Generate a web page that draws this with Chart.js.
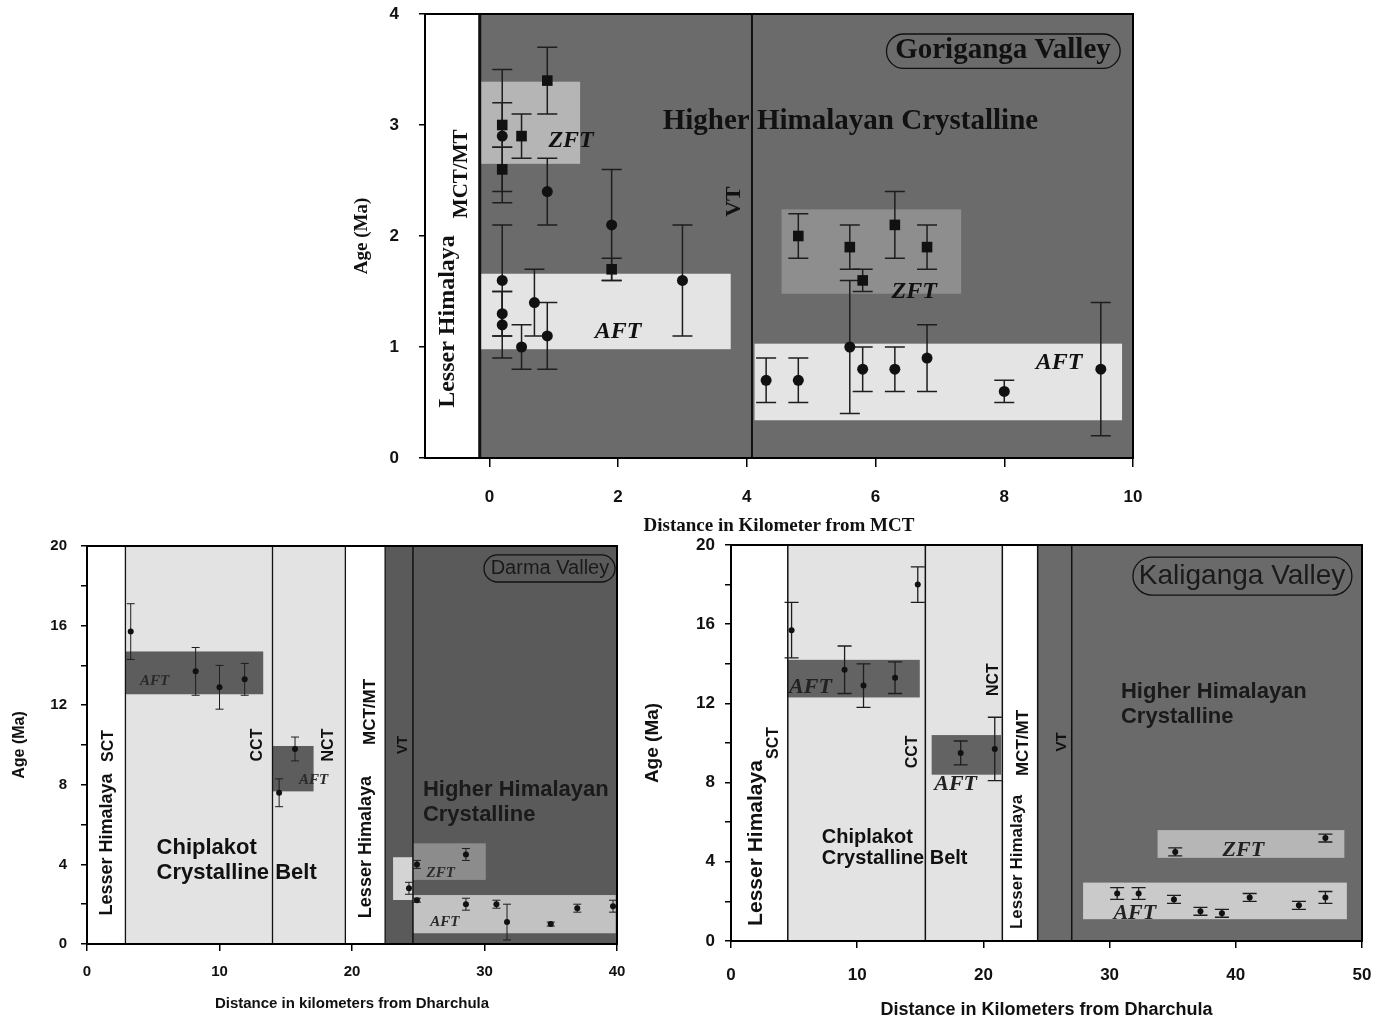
<!DOCTYPE html>
<html>
<head>
<meta charset="utf-8">
<script src="https://cdn.jsdelivr.net/npm/chart.js@4.4.1/dist/chart.umd.min.js"></script>
<style>
  html, body { margin: 0; padding: 0; background: #fff; }
  body { width: 1381px; height: 1022px; position: relative; overflow: hidden; }
  .panel { position: absolute; }
</style>
</head>
<body>
<div class="panel" style="left:330px;top:0;width:830px;height:540px"><canvas id="gori"></canvas></div>
<div class="panel" style="left:0;top:530px;width:636px;height:492px"><canvas id="darma"></canvas></div>
<div class="panel" style="left:636px;top:530px;width:745px;height:492px"><canvas id="kali"></canvas></div>
<script>
// ---- Goriganga valley (distance from MCT, km / age Ma) ----
const goriAftX   = [0.2, 0.2, 0.2, 0.2, 0.5, 0.7, 0.9, 0.9, 1.9, 3.0, 4.3, 4.8, 5.6, 5.8, 6.3, 6.8, 8.0, 9.5];
const goriAftAge = [2.9, 1.6, 1.3, 1.2, 1.0, 1.4, 2.4, 1.1, 2.1, 1.6, 0.7, 0.7, 1.0, 0.8, 0.8, 0.9, 0.6, 0.8];
const goriAftErr = [0.6, 0.5, 0.2, 0.3, 0.2, 0.3, 0.3, 0.3, 0.5, 0.5, 0.2, 0.2, 0.6, 0.2, 0.2, 0.3, 0.1, 0.6];
const goriZftX   = [0.2, 0.2, 0.5, 0.9, 1.9, 4.8, 5.6, 5.8, 6.3, 6.8];
const goriZftAge = [3.0, 2.6, 2.9, 3.4, 1.7, 2.0, 1.9, 1.6, 2.1, 1.9];
const goriZftErr = [0.2, 0.2, 0.2, 0.3, 0.1, 0.2, 0.2, 0.1, 0.3, 0.2];
const goriZoneEdges = [-1, -0.15, 10];
const goriThrusts = [-0.15, 4.08];
const goriBoxes = [[-0.15, 1.41, 2.65, 3.39], [-0.15, 3.75, 0.98, 1.66], [4.54, 7.33, 1.48, 2.24], [4.12, 9.83, 0.34, 1.03]];
const goriXTicks = [0, 2, 4, 6, 8, 10];
const goriYTicks = [0, 1, 2, 3, 4];

// ---- Darma valley (distance from Dharchula, km / age Ma) ----
const darmaX   = [3.3, 8.2, 10.0, 11.9, 14.5, 15.7, 24.3, 24.9, 24.9, 28.6, 28.6, 30.9, 31.7, 35.0, 37.0, 39.7];
const darmaAge = [15.7, 13.7, 12.9, 13.3, 7.6, 9.8, 2.8, 4.0, 2.2, 4.5, 2.0, 2.0, 1.1, 1.0, 1.8, 1.9];
const darmaErr = [1.4, 1.2, 1.1, 0.8, 0.7, 0.6, 0.3, 0.2, 0.1, 0.3, 0.3, 0.2, 0.9, 0.1, 0.2, 0.3];
const darmaZoneEdges = [0, 2.9, 14.0, 19.5, 22.5, 40];
const darmaThrusts = [2.9, 14.0, 19.5, 22.5, 24.6];
const darmaBoxes = [[2.9, 13.3, 12.55, 14.7], [14.0, 17.1, 7.67, 9.95], [23.1, 24.6, 2.21, 4.36], [24.6, 30.1, 3.22, 5.06], [24.6, 39.9, 0.54, 2.46]];
const darmaXTicks = [0, 10, 20, 30, 40];
const darmaYTicks = [0, 2, 4, 6, 8, 10, 12, 14, 16, 18, 20];

// ---- Kaliganga valley ----
const kaliX   = [4.8, 9.0, 10.5, 13.0, 14.8, 18.2, 20.9, 30.6, 32.3, 35.1, 37.2, 38.9, 41.1, 45.0, 47.1, 35.2, 47.1];
const kaliAge = [15.7, 13.7, 12.9, 13.3, 18.0, 9.5, 9.7, 2.4, 2.4, 2.1, 1.5, 1.4, 2.2, 1.8, 2.2, 4.5, 5.2];
const kaliErr = [1.4, 1.2, 1.1, 0.8, 0.9, 0.6, 1.6, 0.3, 0.3, 0.2, 0.2, 0.2, 0.2, 0.2, 0.3, 0.2, 0.2];
const kaliZoneEdges = [0, 4.5, 15.4, 21.5, 24.3, 50];
const kaliThrusts = [4.5, 15.4, 21.5, 24.3, 27.0];
const kaliBoxes = [[4.5, 14.96, 12.3, 14.2], [15.9, 21.4, 8.4, 10.4], [33.8, 48.6, 4.2, 5.6], [27.9, 48.8, 1.1, 2.95]];
const kaliXTicks = [0, 10, 20, 30, 40, 50];
const kaliYTicks = [0, 2, 4, 6, 8, 10, 12, 14, 16, 18, 20];

const SERIF = "'Liberation Serif','Times New Roman',serif";
const SANS = "'Liberation Sans',Arial,sans-serif";
const NARROW = "'Liberation Sans Narrow','Arial Narrow','Liberation Sans',sans-serif";

function pts(xs, ys) { return xs.map((x, i) => ({ x: x, y: ys[i] })); }

// background zones, boxes, thrust lines, labels and error bars
const geology = {
  id: 'geology',
  beforeDatasetsDraw(chart, args, o) {
    const { ctx, chartArea: a, scales: { x, y } } = chart;
    ctx.save();
    ctx.beginPath();
    ctx.rect(a.left, a.top, a.right - a.left, a.bottom - a.top);
    ctx.clip();
    for (let i = 0; i < o.zoneEdges.length - 1; i++) {
      const x0 = x.getPixelForValue(o.zoneEdges[i]), x1 = x.getPixelForValue(o.zoneEdges[i + 1]);
      ctx.fillStyle = o.zoneColors[i];
      ctx.fillRect(x0, a.top, x1 - x0, a.bottom - a.top);
    }
    o.boxes.forEach((b, i) => {
      const x0 = x.getPixelForValue(b[0]), x1 = x.getPixelForValue(b[1]);
      const y0 = y.getPixelForValue(b[3]), y1 = y.getPixelForValue(b[2]);
      ctx.fillStyle = o.boxColors[i];
      ctx.fillRect(x0, y0, x1 - x0, y1 - y0);
    });
    o.thrusts.forEach((t, i) => {
      const px = x.getPixelForValue(t);
      ctx.strokeStyle = '#111';
      ctx.lineWidth = o.thrustWidths[i];
      ctx.beginPath();
      ctx.moveTo(px, a.top);
      ctx.lineTo(px, a.bottom);
      ctx.stroke();
    });
    o.labels.forEach(l => {
      const px = x.getPixelForValue(l.x), py = y.getPixelForValue(l.y);
      ctx.save();
      ctx.font = l.font;
      ctx.fillStyle = l.color || '#111';
      ctx.textBaseline = 'middle';
      ctx.textAlign = l.align || 'center';
      if (l.box) {
        const bx0 = x.getPixelForValue(l.box[0]), bx1 = x.getPixelForValue(l.box[1]);
        const by0 = y.getPixelForValue(l.box[3]), by1 = y.getPixelForValue(l.box[2]);
        const r = (by1 - by0) / 2;
        ctx.strokeStyle = '#111';
        ctx.lineWidth = 1.3;
        ctx.beginPath();
        ctx.roundRect(bx0, by0, bx1 - bx0, by1 - by0, r);
        ctx.stroke();
      }
      ctx.translate(px, py);
      if (l.rot) ctx.rotate(-Math.PI / 2);
      ctx.fillText(l.t, 0, 0);
      ctx.restore();
    });
    ctx.restore();
    // error bars
    ctx.save();
    ctx.strokeStyle = '#1e1e1e';
    ctx.lineWidth = o.errWidth;
    chart.data.datasets.forEach(ds => {
      ds.data.forEach((p, j) => {
        const e = ds.err[j];
        const px = x.getPixelForValue(p.x);
        const top = y.getPixelForValue(p.y + e), bot = y.getPixelForValue(p.y - e);
        ctx.beginPath();
        ctx.moveTo(px, top); ctx.lineTo(px, bot);
        ctx.moveTo(px - o.cap, top); ctx.lineTo(px + o.cap, top);
        ctx.moveTo(px - o.cap, bot); ctx.lineTo(px + o.cap, bot);
        ctx.stroke();
      });
    });
    ctx.restore();
  },
  afterDatasetsDraw(chart, args, o) {
    const { ctx, chartArea: a } = chart;
    ctx.save();
    ctx.strokeStyle = '#000';
    ctx.lineWidth = o.frameWidth;
    ctx.strokeRect(a.left, a.top, a.right - a.left, a.bottom - a.top);
    ctx.restore();
  }
};

function axes(cfg) {
  return {
    x: {
      type: 'linear', min: cfg.xMin, max: cfg.xMax,
      afterBuildTicks: s => { s.ticks = cfg.xTicks.map(v => ({ value: v })); },
      afterFit: s => { s.height = cfg.xH; s.paddingLeft = 0; s.paddingRight = 0; },
      grid: { drawOnChartArea: false, drawTicks: true, tickLength: cfg.xTickLen, color: '#000', lineWidth: 1.5 },
      border: { display: true, color: '#000', width: 2 },
      ticks: { color: '#111', font: cfg.tickFont, padding: cfg.xPad, maxRotation: 0, autoSkip: false },
      title: { display: true, text: cfg.xTitle, color: '#111', font: cfg.xTitleFont, padding: { top: 0, bottom: cfg.xTitlePad } }
    },
    y: {
      type: 'linear', min: cfg.yMin, max: cfg.yMax,
      afterBuildTicks: s => { s.ticks = cfg.yTicks.map(v => ({ value: v })); },
      afterFit: s => { s.width = cfg.yW; s.paddingTop = 0; s.paddingBottom = 0; },
      grid: { drawOnChartArea: false, drawTicks: true, tickLength: 6, color: '#000', lineWidth: 1.5 },
      border: { display: true, color: '#000', width: 2 },
      ticks: { color: '#111', font: cfg.tickFont, padding: cfg.yPad, autoSkip: false,
               callback: v => (v % cfg.yLabelStep === 0 ? String(v) : '') },
      title: { display: true, text: 'Age (Ma)', color: '#111', font: cfg.yTitleFont, padding: { top: cfg.yTitlePad, bottom: 0 } }
    }
  };
}

function make(id, datasets, cfg, geo) {
  new Chart(document.getElementById(id), {
    type: 'scatter',
    data: { datasets: datasets },
    options: {
      responsive: true, maintainAspectRatio: false, animation: false,
      layout: { padding: cfg.pad },
      scales: axes(cfg),
      plugins: { legend: { display: false }, tooltip: { enabled: false }, geology: geo }
    },
    plugins: [geology]
  });
}

// ---- Goriganga chart ----
make('gori', [
  { data: pts(goriAftX, goriAftAge), err: goriAftErr, pointStyle: 'circle', pointRadius: 5.5, backgroundColor: '#111', borderColor: '#111', borderWidth: 0 },
  { data: pts(goriZftX, goriZftAge), err: goriZftErr, pointStyle: 'rect', pointRadius: 7.5, backgroundColor: '#111', borderColor: '#111', borderWidth: 0 }
], {
  xMin: -1, xMax: 10, yMin: 0, yMax: 4, xTicks: goriXTicks, yTicks: goriYTicks, yLabelStep: 1,
  xH: 82, yW: 95, xTickLen: 9, xPad: 20, yPad: 20,
  tickFont: { family: NARROW, size: 17, weight: 'bold' },
  xTitle: 'Distance in Kilometer from MCT', xTitleFont: { family: SERIF, size: 19, weight: 'bold' }, xTitlePad: 3,
  yTitleFont: { family: SERIF, size: 19, weight: 'bold' }, yTitlePad: 21,
  pad: { top: 14, right: 27, left: 0, bottom: 0 }
}, {
  zoneEdges: goriZoneEdges, zoneColors: ['#ffffff', '#6b6b6b'],
  boxes: goriBoxes, boxColors: ['#b5b5b5', '#e4e4e4', '#8e8e8e', '#e4e4e4'],
  thrusts: goriThrusts, thrustWidths: [3, 2],
  errWidth: 1.5, cap: 10, frameWidth: 2,
  labels: [
    { t: 'Lesser Himalaya', x: -0.64, y: 1.23, rot: true, font: 'bold 24px ' + SERIF },
    { t: 'MCT/MT', x: -0.43, y: 2.56, rot: true, font: 'bold 21px ' + SERIF },
    { t: 'VT', x: 3.8, y: 2.31, rot: true, font: 'bold 22px ' + SERIF },
    { t: 'Higher Himalayan Crystalline', x: 5.61, y: 3.03, font: 'bold 29px ' + SERIF },
    { t: 'ZFT', x: 1.27, y: 2.86, font: 'italic bold 24px ' + SERIF },
    { t: 'AFT', x: 2.0, y: 1.14, font: 'italic bold 24px ' + SERIF },
    { t: 'ZFT', x: 6.6, y: 1.5, font: 'italic bold 24px ' + SERIF },
    { t: 'AFT', x: 8.85, y: 0.86, font: 'italic bold 24px ' + SERIF },
    { t: 'Goriganga Valley', x: 7.98, y: 3.67, box: [6.17, 9.8, 3.51, 3.82], font: 'bold 29px ' + SERIF }
  ]
});

// ---- Darma chart ----
make('darma', [
  { data: pts(darmaX, darmaAge), err: darmaErr, pointStyle: 'circle', pointRadius: 3, backgroundColor: '#111', borderColor: '#111', borderWidth: 0 }
], {
  xMin: 0, xMax: 40, yMin: 0, yMax: 20, xTicks: darmaXTicks, yTicks: darmaYTicks, yLabelStep: 4,
  xH: 78, yW: 87, xTickLen: 7, xPad: 12, yPad: 14,
  tickFont: { family: NARROW, size: 15, weight: 'bold' },
  xTitle: 'Distance in kilometers from Dharchula', xTitleFont: { family: SANS, size: 15, weight: 'bold' }, xTitlePad: 9,
  yTitleFont: { family: SANS, size: 16, weight: 'bold' }, yTitlePad: 10,
  pad: { top: 16, right: 19, left: 0, bottom: 0 }
}, {
  zoneEdges: darmaZoneEdges, zoneColors: ['#ffffff', '#e3e3e3', '#e3e3e3', '#ffffff', '#5a5a5a'],
  boxes: darmaBoxes, boxColors: ['#5d5d5d', '#5d5d5d', '#d4d4d4', '#8c8c8c', '#c2c2c2'],
  thrusts: darmaThrusts, thrustWidths: [1.3, 1.3, 1.3, 1.3, 1.5],
  errWidth: 1, cap: 4, frameWidth: 2,
  labels: [
    { t: 'Lesser Himalaya', x: 1.5, y: 5.0, rot: true, font: 'bold 18px ' + SANS },
    { t: 'SCT', x: 1.6, y: 9.95, rot: true, font: 'bold 16px ' + SANS },
    { t: 'CCT', x: 12.87, y: 10.0, rot: true, font: 'bold 16px ' + SANS },
    { t: 'NCT', x: 18.26, y: 10.0, rot: true, font: 'bold 16px ' + SANS },
    { t: 'MCT/MT', x: 21.36, y: 11.66, rot: true, font: 'bold 17px ' + SANS },
    { t: 'Lesser Himalaya', x: 21.06, y: 4.87, rot: true, font: 'bold 18px ' + SANS },
    { t: 'VT', x: 23.85, y: 10.0, rot: true, font: 'bold 14px ' + SANS },
    { t: 'Chiplakot', x: 5.25, y: 4.82, align: 'left', font: 'bold 22px ' + SANS },
    { t: 'Crystalline Belt', x: 5.25, y: 3.57, align: 'left', font: 'bold 22px ' + SANS },
    { t: 'Higher Himalayan', x: 25.35, y: 7.74, align: 'left', font: 'bold 22px ' + SANS, color: '#1a1a1a' },
    { t: 'Crystalline', x: 25.35, y: 6.48, align: 'left', font: 'bold 22px ' + SANS, color: '#1a1a1a' },
    { t: 'AFT', x: 5.1, y: 13.2, font: 'italic bold 15px ' + SERIF, color: '#2a2a2a' },
    { t: 'AFT', x: 17.1, y: 8.24, font: 'italic bold 15px ' + SERIF, color: '#2a2a2a' },
    { t: 'ZFT', x: 26.7, y: 3.57, font: 'italic bold 15px ' + SERIF, color: '#2a2a2a' },
    { t: 'AFT', x: 27.0, y: 1.1, font: 'italic bold 15px ' + SERIF, color: '#2a2a2a' },
    { t: 'Darma Valley', x: 34.94, y: 18.89, box: [29.96, 39.85, 18.19, 19.55], font: '20px ' + NARROW, color: '#1a1a1a' }
  ]
});

// ---- Kaliganga chart ----
make('kali', [
  { data: pts(kaliX, kaliAge), err: kaliErr, pointStyle: 'circle', pointRadius: 3, backgroundColor: '#111', borderColor: '#111', borderWidth: 0 }
], {
  xMin: 0, xMax: 50, yMin: 0, yMax: 20, xTicks: kaliXTicks, yTicks: kaliYTicks, yLabelStep: 4,
  xH: 81, yW: 95, xTickLen: 7, xPad: 17, yPad: 10,
  tickFont: { family: NARROW, size: 17, weight: 'bold' },
  xTitle: 'Distance in Kilometers from Dharchula', xTitleFont: { family: SANS, size: 18, weight: 'bold' }, xTitlePad: 1,
  yTitleFont: { family: SANS, size: 19, weight: 'bold' }, yTitlePad: 5,
  pad: { top: 15, right: 19, left: 0, bottom: 0 }
}, {
  zoneEdges: kaliZoneEdges, zoneColors: ['#ffffff', '#e3e3e3', '#e3e3e3', '#ffffff', '#6a6a6a'],
  boxes: kaliBoxes, boxColors: ['#636363', '#636363', '#b6b6b6', '#cacaca'],
  thrusts: kaliThrusts, thrustWidths: [1.5, 1.5, 1.5, 1.5, 1.5],
  errWidth: 1.3, cap: 7, frameWidth: 2,
  labels: [
    { t: 'Lesser Himalaya', x: 1.98, y: 4.95, rot: true, font: 'bold 21px ' + SANS },
    { t: 'SCT', x: 3.4, y: 10.0, rot: true, font: 'bold 16px ' + SANS },
    { t: 'CCT', x: 14.4, y: 9.55, rot: true, font: 'bold 16px ' + SANS },
    { t: 'NCT', x: 20.8, y: 13.2, rot: true, font: 'bold 16px ' + SANS },
    { t: 'MCT/MT', x: 23.2, y: 10.0, rot: true, font: 'bold 17px ' + SANS },
    { t: 'Lesser Himalaya', x: 22.7, y: 3.99, rot: true, font: 'bold 17px ' + SANS },
    { t: 'VT', x: 26.2, y: 10.05, rot: true, font: 'bold 15px ' + SANS },
    { t: 'Higher Himalayan', x: 30.9, y: 12.58, align: 'left', font: 'bold 22px ' + SANS, color: '#1a1a1a' },
    { t: 'Crystalline', x: 30.9, y: 11.3, align: 'left', font: 'bold 22px ' + SANS, color: '#1a1a1a' },
    { t: 'Chiplakot', x: 7.2, y: 5.25, align: 'left', font: 'bold 20px ' + SANS },
    { t: 'Crystalline Belt', x: 7.2, y: 4.19, align: 'left', font: 'bold 20px ' + SANS },
    { t: 'AFT', x: 6.3, y: 12.8, font: 'italic bold 22px ' + SERIF, color: '#222' },
    { t: 'AFT', x: 17.8, y: 7.9, font: 'italic bold 22px ' + SERIF, color: '#222' },
    { t: 'ZFT', x: 40.6, y: 4.6, font: 'italic bold 22px ' + SERIF, color: '#222' },
    { t: 'AFT', x: 32.0, y: 1.41, font: 'italic bold 22px ' + SERIF, color: '#222' },
    { t: 'Kaliganga Valley', x: 40.5, y: 18.43, box: [31.85, 49.2, 17.47, 19.39], font: '28px ' + NARROW, color: '#1a1a1a' }
  ]
});
</script>
</body>
</html>
